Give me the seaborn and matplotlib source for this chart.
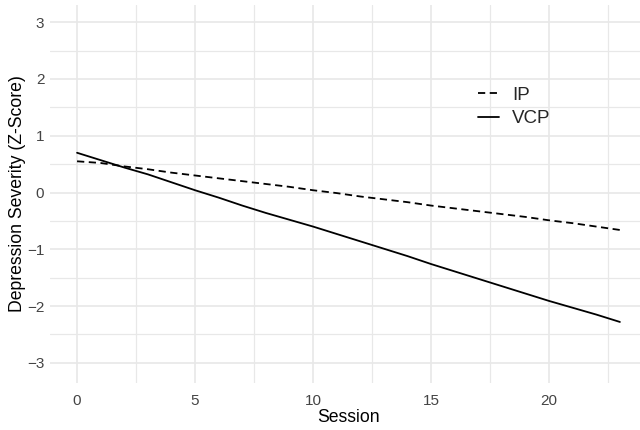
import pandas as pd
import matplotlib
matplotlib.use("Agg")
import matplotlib.pyplot as plt
import seaborn as sns

sessions = list(range(24))
ip_vals = [0.55, 0.52, 0.46, 0.41, 0.35, 0.30, 0.25, 0.20, 0.15, 0.10, 0.04, -0.01,
           -0.07, -0.12, -0.17, -0.23, -0.28, -0.33, -0.38, -0.43, -0.49, -0.54, -0.60, -0.66]
vcp_vals = [0.70, 0.57, 0.44, 0.32, 0.18, 0.04, -0.09, -0.23, -0.36, -0.48, -0.60, -0.73,
            -0.86, -0.99, -1.12, -1.26, -1.39, -1.52, -1.65, -1.78, -1.91, -2.03, -2.15, -2.28]
groups = ["IP", "VCP"]

df = pd.DataFrame({
    "Session": sessions * 2,
    "z": ip_vals + vcp_vals,
    "group": [groups[0]] * len(sessions) + [groups[1]] * len(sessions),
})

sns.set_theme(style="white")
plt.rcParams['font.family'] = ['Liberation Sans', 'DejaVu Sans']

fig = plt.figure(figsize=(6.4, 4.3), dpi=100)
ax = fig.add_axes([0.078, 0.11, 0.933, 0.878])

# ggplot-ish minimal grid
grid_c = "#E8E8E8"
for v in [-3, -2, -1, 0, 1, 2, 3]:
    ax.axhline(v, color=grid_c, lw=1.2, zorder=0)
for v in [-2.5, -1.5, -0.5, 0.5, 1.5, 2.5]:
    ax.axhline(v, color=grid_c, lw=0.9, zorder=0)
for v in [0, 5, 10, 15, 20]:
    ax.axvline(v, color=grid_c, lw=1.2, zorder=0)
for v in [2.5, 7.5, 12.5, 17.5, 22.5]:
    ax.axvline(v, color=grid_c, lw=0.9, zorder=0)

sns.lineplot(data=df, x="Session", y="z", style="group", style_order=groups,
             dashes={"IP": (4, 2.5), "VCP": ""}, color="black", lw=1.3, ax=ax)

ax.set_xlim(-1.15, 24.15)
ax.set_ylim(-3.35, 3.3)
ax.set_xticks([0, 5, 10, 15, 20])
ax.set_yticks([-3, -2, -1, 0, 1, 2, 3])
ax.tick_params(axis="both", length=0, labelsize=11, labelcolor="#444444")
ax.tick_params(axis="x", pad=8)
ax.tick_params(axis="y", pad=4)
for s in ax.spines.values():
    s.set_visible(False)
ax.set_xlabel("Session", fontsize=12.7, color="black", labelpad=1)
ax.set_ylabel("Depression Severity (Z-Score)", fontsize=12.7, color="black", labelpad=1)

leg = ax.legend(title=None, frameon=False, fontsize=13.5, loc="center left",
                bbox_to_anchor=(0.747, 0.751), bbox_transform=fig.transFigure,
                borderaxespad=0, borderpad=0, handlelength=1.1, handletextpad=0.7,
                labelspacing=0.35)
for h in leg.get_lines():
    h.set_linewidth(1.3)

fig.savefig("out.png", dpi=100)
